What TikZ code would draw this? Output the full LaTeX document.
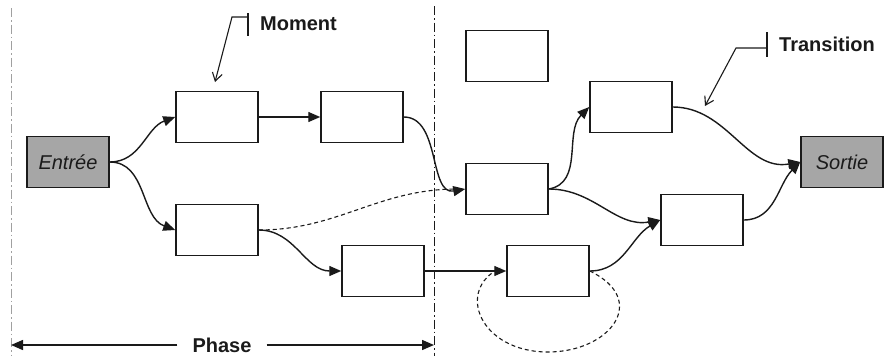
\documentclass[tikz,border=0pt]{standalone}
\usepackage{fontspec}
\setmainfont{Liberation Sans}
\usetikzlibrary{arrows.meta}
\definecolor{ln}{HTML}{1A1A1A}
\definecolor{gfill}{HTML}{A6A6A6}
\definecolor{lsep}{HTML}{A0A0A0}
\begin{document}
\begin{tikzpicture}[x=1pt,y=-1pt,
  box/.style={draw=ln, line width=1.5pt, minimum width=82pt, minimum height=51pt, inner sep=0pt, fill=white},
  io/.style={box, fill=gfill, font=\fontsize{20}{24}\selectfont\itshape, text=ln},
  conn/.style={draw=ln, line width=1.4pt, -{Triangle[length=12pt,width=10pt]}},
  dconn/.style={draw=ln, line width=1.1pt, dash pattern=on 4pt off 3pt},
  lab/.style={font=\fontsize{20}{24}\selectfont\bfseries, text=ln, inner sep=0pt},
  call/.style={draw=ln, line width=1.1pt},
  sepline/.style={line width=1pt, dash pattern=on 9pt off 3pt on 1.5pt off 3pt}]
\useasboundingbox (0,0) rectangle (889,356);
% separators
\draw[sepline, draw=lsep] (11,8) -- (11,356);
\draw[sepline, draw=ln] (434,6) -- (434,356);
% boxes
\node[io] (in) at (68,162) {Entrée};
\node[box] (a) at (217,117) {};
\node[box] (b) at (362,117) {};
\node[box] (c) at (217,230) {};
\node[box] (d) at (383,271) {};
\node[box] (e) at (507,56) {};
\node[box] (g) at (507,189) {};
\node[box] (f) at (631,107) {};
\node[box] (i) at (548,271) {};
\node[box] (h) at (702,220) {};
\node[io] (out) at (842,162) {Sortie};
% dashed links
\draw[dconn] (c.east) to[out=0,in=180] ([xshift=-8pt]g.west);
\draw[dconn] (i.east) .. controls (650,300) and (610,352) .. (548,352)
  coordinate (loopb) .. controls (480,352) and (455,290) .. ([xshift=-6pt,yshift=3pt]i.west);
% connectors
\draw[conn] (in.east) to[out=0,in=200] (a.west);
\draw[conn] (in.east) to[out=0,in=160] (c.west);
\draw[conn] (a) -- (b);
\draw[conn] (b.east) to[out=0,in=190] (g.west);
\draw[conn] (c.east) to[out=0,in=180] (d.west);
\draw[conn] (d) -- (i);
\draw[conn] (g.east) to[out=10,in=225] (f.west);
\draw[conn] (g.east) to[out=0,in=190] (h.west);
\draw[conn] (i.east) to[out=0,in=210] (h.west);
\draw[conn] (f.east) to[out=0,in=190] (out.west);
\draw[conn] (h.east) to[out=0,in=225] (out.west);
% Moment callout
\node[lab, anchor=west] (mom) at (260,24) {Moment};
\coordinate (mt1) at (248,13);
\coordinate (mt2) at (248,36);
\coordinate (mk) at (248,17);
\coordinate (mb) at (232,17);
\coordinate (ma) at (215,82);
\draw[call] (mt1) -- (mt2);
\draw[call, -{Straight Barb[length=8pt,width=10pt]}] (mk) -- (mb) -- (ma);
% Transition callout
\node[lab, anchor=west] (tr) at (779,44) {Transition};
\coordinate (tt1) at (767,32);
\coordinate (tt2) at (767,57);
\coordinate (tk) at (767,48);
\coordinate (tb) at (736,48);
\coordinate (ta) at (705,106);
\draw[call] (tt1) -- (tt2);
\draw[call, -{Straight Barb[length=8pt,width=10pt]}] (tk) -- (tb) -- (ta);
% Phase
\node[lab] (phase) at (222,345) {Phase};
\coordinate (pl) at (11,345);
\coordinate (pr) at (434,345);
\draw[conn] ([xshift=-15pt]phase.west) -- (pl);
\draw[conn] ([xshift=15pt]phase.east) -- (pr);
\end{tikzpicture}
\end{document}
